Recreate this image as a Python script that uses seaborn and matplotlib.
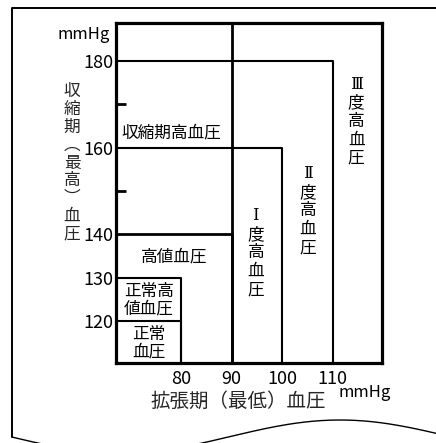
import numpy as np
import pandas as pd
import seaborn as sns
import matplotlib.pyplot as plt

# Blood pressure classification (upper limits of each zone, mmHg)
classes = ["正常血圧", "正常高値血圧", "高値血圧", "Ⅰ度高血圧", "Ⅱ度高血圧", "Ⅲ度高血圧"]
sbp_upper = [120, 130, 140, 160, 180]
dbp_upper = [80, 80, 90, 100, 110]
isolated_label = "収縮期高血圧"
isolated_dbp = 90

sbp_ticks = [120, 130, 140, 160, 180]
sbp_minor = [150, 170]
dbp_ticks = [80, 90, 100, 110]

x_range = (67.2, 119.7)
y_range = (110.3, 188.8)

sns.set_theme(style="white")
plt.rcParams['font.family'] = ['Noto Sans CJK JP', 'DejaVu Sans']
plt.rcParams['text.color'] = 'black'
plt.rcParams['axes.edgecolor'] = 'black'
plt.rcParams['xtick.color'] = 'black'
plt.rcParams['ytick.color'] = 'black'

# Build the zone boundaries as line segments
rows = []
for cls, s, d in zip(classes, sbp_upper, dbp_upper):
    rows += [(cls, x_range[0], s, 0), (cls, d, s, 1), (cls, d, y_range[0], 2)]
rows += [(isolated_label, isolated_dbp, y_range[0], 0), (isolated_label, isolated_dbp, y_range[1], 1)]
seg = pd.DataFrame(rows, columns=['boundary', 'dbp', 'sbp', 'order'])

fig = plt.figure(figsize=(4.36, 4.43), dpi=100)
ax = fig.add_axes([116 / 436, 80 / 443, 266 / 436, 340 / 443])

widths = {"高値血圧": 2.0, isolated_label: 2.0}
for name, g in seg.groupby('boundary', sort=False):
    sns.lineplot(data=g, x='dbp', y='sbp', sort=False, estimator=None,
                 color='black', lw=widths.get(name, 1.5), ax=ax)

ax.set_xlim(*x_range)
ax.set_ylim(*y_range)
for sp in ax.spines.values():
    sp.set_linewidth(2.3)
    sp.set_color('black')

ax.set_xticks(dbp_ticks)
ax.set_yticks(sbp_ticks)
ax.set_yticks(sbp_minor, minor=True)
ax.tick_params(axis='x', length=0, pad=5, labelsize=13)
ax.tick_params(axis='y', which='major', length=0, pad=2, labelsize=13)
ax.tick_params(axis='y', which='minor', left=True, direction='in', length=7, width=2)

# Zone labels
txt = dict(fontsize=12, ha='center', va='center')
ax.text(78.2, 163.4, isolated_label, **txt)
ax.text(78.6, 134.8, classes[2], **txt)
ax.text(73.7, 124.8, "正常高\n値血圧", linespacing=1.05, **txt)
ax.text(73.7, 114.9, "正常\n血圧", linespacing=1.05, **txt)
for lbl, x, y in [(classes[3], 94.8, 135.7), (classes[4], 105.1, 145.4), (classes[5], 114.6, 166.1)]:
    ax.text(x, y, "\n".join(lbl), linespacing=1.12,
            family=['DejaVu Serif', 'Noto Sans CJK JP'], **txt)

# Axis titles
ax.set_ylabel("\n".join("収縮期︵最高︶血圧"), rotation=0, ha='center', va='center',
              fontsize=12, linespacing=1.06)
ax.yaxis.set_label_coords(-0.165, 0.588)
ax.set_xlabel("拡張期（最低）血圧", fontsize=14, va='center')
ax.xaxis.set_label_coords(0.459, -0.112)
ax.text(-0.023, 0.965, "mmHg", transform=ax.transAxes, ha='right', va='center', fontsize=12)
ax.text(0.936, -0.088, "mmHg", transform=ax.transAxes, ha='center', va='center', fontsize=12)

# Document-shaped outline around the chart
deco = fig.add_axes([0, 0, 1, 1], zorder=-1)
deco.set_xlim(0, 436)
deco.set_ylim(443, 0)
deco.axis('off')
wx = np.linspace(12, 436, 200)
wy = 436.6 + 16.6 * np.cos(2 * np.pi * (wx - 120) / 440)
deco.plot([436, 12, 12], [8, 8, wy[0]], color='black', lw=1.4)
deco.plot(wx, wy, color='black', lw=1.0)

fig.savefig('out.png', dpi=100)
